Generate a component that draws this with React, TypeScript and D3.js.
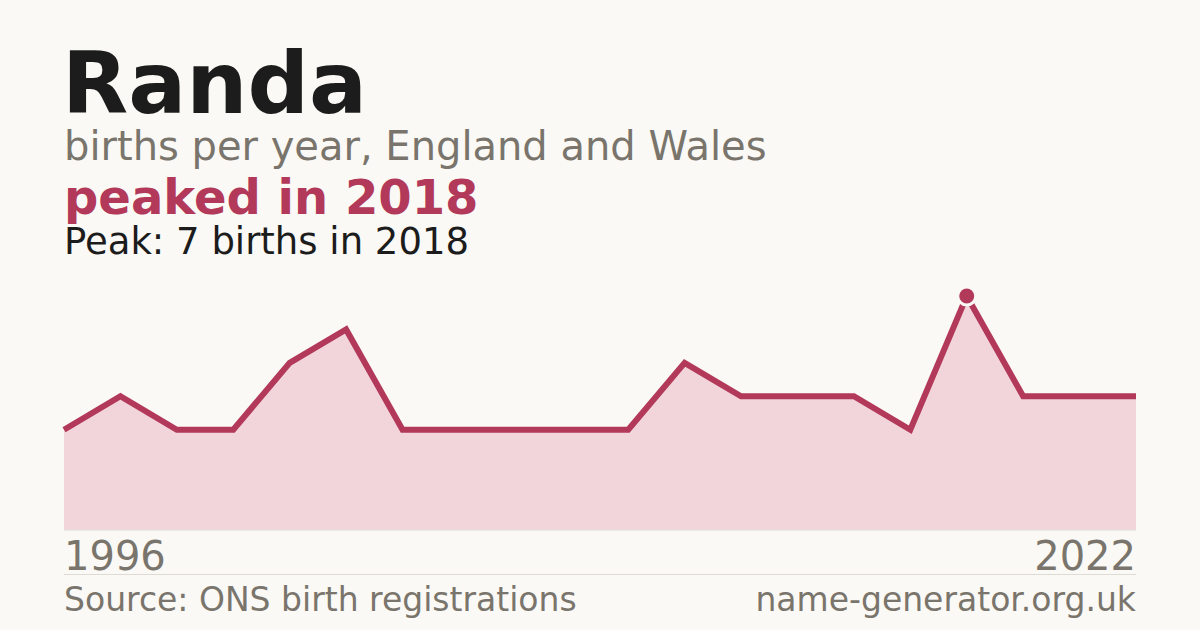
import * as d3 from "d3";

const W = 1200;
const H = 630;
const LEFT = 64;
const RIGHT = 1136;
const BASE = 530; // baseline of the area
const TOP_Y = 296; // where the peak sits

const ACCENT = "#b3395a";
const FILL = "#f2d5db";
const MUTED = "#7a756c";
const INK = "#1c1c1c";
const BG = "#faf9f5";
const FONT = "'DejaVu Sans', sans-serif";

// years with registrations (evenly spaced in the chart)
const YEARS = [
  1996, 1997, 1998, 2000, 2002, 2003, 2005, 2006, 2008, 2009,
  2011, 2012, 2013, 2014, 2016, 2017, 2018, 2019, 2021, 2022,
];
const BIRTHS = [3, 4, 3, 3, 5, 6, 3, 3, 3, 3, 3, 5, 4, 4, 4, 3, 7, 4, 4, 4];

const NAME = "Randa";
const SUBTITLE = "births per year, England and Wales";
const HEADLINE = "peaked in 2018";
const PEAK_NOTE = "Peak: 7 births in 2018";
const SOURCE = "Source: ONS birth registrations";
const SITE = "name-generator.org.uk";

export default function App() {
  const x = d3
    .scalePoint<number>()
    .domain(YEARS)
    .range([LEFT, RIGHT]);
  const y = d3
    .scaleLinear()
    .domain([0, d3.max(BIRTHS) ?? 7])
    .range([BASE, TOP_Y]);

  const pts = YEARS.map((yr, i) => ({ yr, v: BIRTHS[i] }));

  const area = d3
    .area<{ yr: number; v: number }>()
    .x((d) => x(d.yr)!)
    .y0(BASE)
    .y1((d) => y(d.v));
  const line = d3
    .line<{ yr: number; v: number }>()
    .x((d) => x(d.yr)!)
    .y((d) => y(d.v));

  const peakIdx = d3.maxIndex(BIRTHS);
  const peak = pts[peakIdx];

  return (
    <div style={{ position: "fixed", left: 0, top: 0 }}>
      <svg width={W} height={H} style={{ display: "block" }} fontFamily={FONT}>
        <rect width={W} height={H} fill={BG} />

        <text x={LEFT - 2} y={113} fontSize={86} fontWeight="bold" fill={INK}>
          {NAME}
        </text>
        <text x={LEFT} y={160} fontSize={40} fill={MUTED}>
          {SUBTITLE}
        </text>
        <text x={LEFT} y={214} fontSize={48} fontWeight="bold" fill={ACCENT}>
          {HEADLINE}
        </text>
        <text x={LEFT} y={254} fontSize={37} fill={INK}>
          {PEAK_NOTE}
        </text>

        <path d={area(pts) ?? ""} fill={FILL} />
        <path
          d={line(pts) ?? ""}
          fill="none"
          stroke={ACCENT}
          strokeWidth={6}
          strokeLinejoin="miter"
        />
        <line x1={LEFT} x2={RIGHT} y1={BASE} y2={BASE} stroke="#e2dfd8" strokeWidth={1} />
        <circle
          cx={x(peak.yr)}
          cy={y(peak.v)}
          r={9}
          fill={ACCENT}
          stroke={BG}
          strokeWidth={3}
        />

        <text x={LEFT} y={570} fontSize={40} fill={MUTED}>
          {YEARS[0]}
        </text>
        <text x={RIGHT} y={570} fontSize={40} fill={MUTED} textAnchor="end">
          {YEARS[YEARS.length - 1]}
        </text>

        <line x1={LEFT} x2={RIGHT} y1={574.5} y2={574.5} stroke="#dedbd4" strokeWidth={1} />

        <text x={LEFT} y={611} fontSize={33} fill={MUTED}>
          {SOURCE}
        </text>
        <text x={RIGHT} y={611} fontSize={33} fill={MUTED} textAnchor="end">
          {SITE}
        </text>
      </svg>
    </div>
  );
}
